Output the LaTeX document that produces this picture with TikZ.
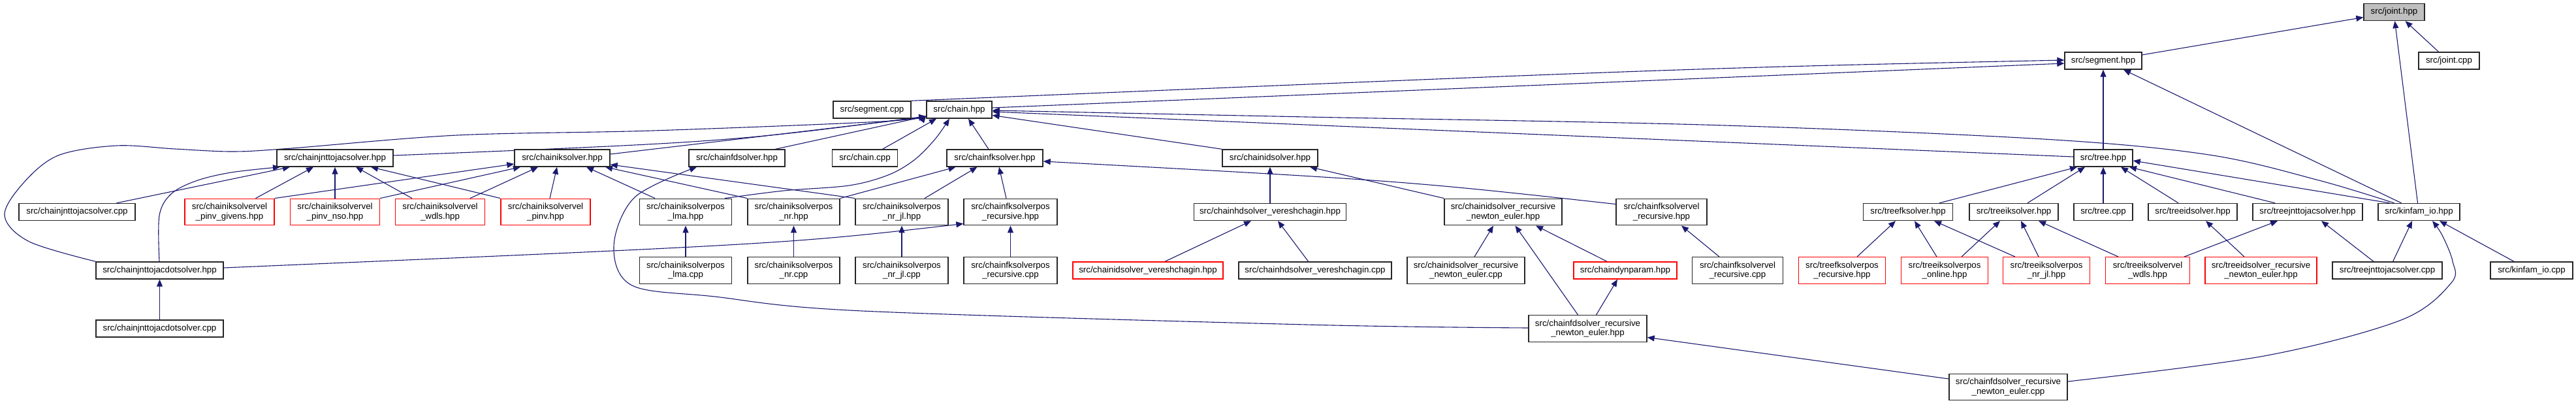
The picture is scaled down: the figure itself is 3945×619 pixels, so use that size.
\documentclass[tikz,border=0pt]{standalone}
\usepackage{fontspec}
\setmainfont{Liberation Sans}
\usetikzlibrary{arrows.meta,calc,backgrounds}
\definecolor{edgeblue}{HTML}{191970}
\definecolor{boxgray}{HTML}{BFBFBF}
\newcommand{\fsz}{\fontsize{13.3}{14.4}\selectfont}
\tikzset{
  file/.style={draw=black!85, line width=1.4pt, fill=white, inner sep=0pt, minimum height=26pt, align=center, font=\fsz},
  twoline/.style={minimum height=40.5pt},
  missing/.style={draw=red},
  dep/.style={draw=edgeblue, line width=1.1pt, -{Triangle[length=11pt,width=9pt]}},
}
\begin{document}
\begin{tikzpicture}[x=1pt,y=-1pt]
\useasboundingbox (0,0) rectangle (3945,619);
% rank 0-2
\node[file, fill=boxgray, minimum width=93pt] (joint) at (3666.5,18.5) {src/joint.hpp};
\node[file, minimum width=118pt] (segment) at (3221,93) {src/segment.hpp};
\node[file, minimum width=93pt] (jointcpp) at (3750.5,93) {src/joint.cpp};
\node[file, minimum width=119pt] (segcpp) at (1335.5,168) {src/segment.cpp};
\node[file, minimum width=100pt] (chain) at (1469,168) {src/chain.hpp};
% rank 3
\node[file, minimum width=178pt] (jacsolver) at (513,242) {src/chainjnttojacsolver.hpp};
\node[file, minimum width=146pt] (iksolver) at (861,242) {src/chainiksolver.hpp};
\node[file, minimum width=147pt] (fdsolver) at (1128.5,242) {src/chainfdsolver.hpp};
\node[file, minimum width=100pt] (chaincpp) at (1324.5,242) {src/chain.cpp};
\node[file, minimum width=147pt] (fksolver) at (1523.5,242) {src/chainfksolver.hpp};
\node[file, minimum width=146pt] (idsolver) at (1945,242) {src/chainidsolver.hpp};
\node[file, minimum width=90pt] (tree) at (3221,242) {src/tree.hpp};
% rank 4
\node[file, minimum width=178pt] (jaccpp) at (118,324.5) {src/chainjnttojacsolver.cpp};
\node[file, twoline, missing, minimum width=137pt] (givens) at (351.5,324.5) {src/chainiksolvervel\\\_pinv\_givens.hpp};
\node[file, twoline, missing, minimum width=137pt] (nso) at (513,324.5) {src/chainiksolvervel\\\_pinv\_nso.hpp};
\node[file, twoline, missing, minimum width=137pt] (wdls) at (674,324.5) {src/chainiksolvervel\\\_wdls.hpp};
\node[file, twoline, missing, minimum width=137pt] (pinv) at (835.5,324.5) {src/chainiksolvervel\\\_pinv.hpp};
\node[file, twoline, minimum width=141pt] (lma) at (1050,324.5) {src/chainiksolverpos\\\_lma.hpp};
\node[file, twoline, minimum width=141pt] (nr) at (1215.5,324.5) {src/chainiksolverpos\\\_nr.hpp};
\node[file, twoline, minimum width=142pt] (nrjl) at (1381,324.5) {src/chainiksolverpos\\\_nr\_jl.hpp};
\node[file, twoline, minimum width=143pt] (fkrec) at (1547.5,324.5) {src/chainfksolverpos\\\_recursive.hpp};
\node[file, minimum width=233pt] (hdver) at (1945,324.5) {src/chainhdsolver\_vereshchagin.hpp};
\node[file, twoline, minimum width=180pt] (idrne) at (2302,324.5) {src/chainidsolver\_recursive\\\_newton\_euler.hpp};
\node[file, twoline, minimum width=139pt] (fkvelrec) at (2544.5,324.5) {src/chainfksolvervel\\\_recursive.hpp};
\node[file, minimum width=137pt] (treefk) at (2922,324.5) {src/treefksolver.hpp};
\node[file, minimum width=136pt] (treeik) at (3084,324.5) {src/treeiksolver.hpp};
\node[file, minimum width=90pt] (treecpp) at (3221,324.5) {src/tree.cpp};
\node[file, minimum width=136pt] (treeid) at (3358,324.5) {src/treeidsolver.hpp};
\node[file, minimum width=168pt] (treejac) at (3534,324.5) {src/treejnttojacsolver.hpp};
\node[file, minimum width=125pt] (kinfam) at (3704.5,324.5) {src/kinfam\_io.hpp};
% rank 5
\node[file, minimum width=195pt] (jacdot) at (244.5,414) {src/chainjnttojacdotsolver.hpp};
\node[file, twoline, minimum width=141pt] (lmacpp) at (1050,414) {src/chainiksolverpos\\\_lma.cpp};
\node[file, twoline, minimum width=141pt] (nrcpp) at (1215.5,414) {src/chainiksolverpos\\\_nr.cpp};
\node[file, twoline, minimum width=142pt] (nrjlcpp) at (1381,414) {src/chainiksolverpos\\\_nr\_jl.cpp};
\node[file, twoline, minimum width=143pt] (fkreccpp) at (1547.5,414) {src/chainfksolverpos\\\_recursive.cpp};
\node[file, missing, minimum width=230pt] (idver) at (1758,414) {src/chainidsolver\_vereshchagin.hpp};
\node[file, minimum width=234pt] (hdvercpp) at (2014,414) {src/chainhdsolver\_vereshchagin.cpp};
\node[file, twoline, minimum width=180pt] (idrnecpp) at (2245,414) {src/chainidsolver\_recursive\\\_newton\_euler.cpp};
\node[file, missing, minimum width=158pt] (dynparam) at (2489,414) {src/chaindynparam.hpp};
\node[file, twoline, minimum width=139pt] (fkvelreccpp) at (2661,414) {src/chainfksolvervel\\\_recursive.cpp};
\node[file, twoline, missing, minimum width=133pt] (treefkrec) at (2821,414) {src/treefksolverpos\\\_recursive.hpp};
\node[file, twoline, missing, minimum width=133pt] (treeonline) at (2978,414) {src/treeiksolverpos\\\_online.hpp};
\node[file, twoline, missing, minimum width=133pt] (treenrjl) at (3134,414) {src/treeiksolverpos\\\_nr\_jl.hpp};
\node[file, twoline, missing, minimum width=129pt] (treewdls) at (3289,414) {src/treeiksolvervel\\\_wdls.hpp};
\node[file, twoline, missing, minimum width=171pt] (treeidrne) at (3462.5,414) {src/treeidsolver\_recursive\\\_newton\_euler.hpp};
\node[file, minimum width=168pt] (treejaccpp) at (3656,414) {src/treejnttojacsolver.cpp};
\node[file, minimum width=126pt] (kinfamcpp) at (3877,414) {src/kinfam\_io.cpp};
% rank 6-7
\node[file, minimum width=195pt] (jacdotcpp) at (244.5,503) {src/chainjnttojacdotsolver.cpp};
\node[file, twoline, minimum width=181pt] (fdrne) at (2431.5,503) {src/chainfdsolver\_recursive\\\_newton\_euler.hpp};
\node[file, twoline, minimum width=181pt] (fdrnecpp) at (3075.5,592.5) {src/chainfdsolver\_recursive\\\_newton\_euler.cpp};

\begin{pgfonlayer}{background}
% joint.hpp
\draw[dep] ($(segment.east)+(0,-9)$) -- ($(joint.west)+(0,8)$);
\draw[dep] ($(jointcpp.north)+(-16,0)$) -- ($(joint.south)+(17,0)$);
\draw[dep] ($(kinfam.north)+(-2,0)$) -- ($(joint.south)+(1,0)$);
% segment.hpp
\draw[dep] (segcpp.north east) .. controls (2600,104) .. ($(segment.west)+(0,-1)$);
\draw[dep] ($(chain.east)+(0,-3)$) -- ($(segment.west)+(0,4)$);
\draw[dep] (tree.north) -- (segment.south);
\draw[dep] ($(kinfam.north)+(-27,0)$) -- ($(segment.south)+(31,0)$);
% chain.hpp
\draw[dep] plot[smooth,tension=0.55] coordinates {(jacdot.north west) (45,370) (7,330) (36,280) (89,238) (178,223) (268,228) (357,232) (446,227) (700,207) (1000,200) (1350,186) ($(chain.west)+(0,9)$)};
\draw[dep] ($(jacsolver.east)+(0,-4)$) .. controls (1117,217) .. ($(chain.west)+(0,10)$);
\draw[dep] ($(iksolver.east)+(0,-6)$) -- ($(chain.west)+(0,11)$);
\draw[dep] ($(fdsolver.north)+(59,0)$) -- ($(chain.west)+(0,10)$);
\draw[dep] ($(chaincpp.north)+(27,0)$) -- ($(chain.south)+(-35,0)$);
\draw[dep] plot[smooth,tension=0.55] coordinates {($(lma.north)+(60,0)$) (1200,292) (1300,284) (1360,268) (1400,245) (1432,213) ($(chain.south)+(-15,0)$)};
\draw[dep] ($(fksolver.north)+(-9.5,0)$) -- ($(chain.south)+(14,0)$);
\draw[dep] (idsolver.north west) -- ($(chain.east)+(0,8.5)$);
\draw[dep] ($(tree.west)+(0,-2)$) -- ($(chain.east)+(0,3)$);
\draw[dep] plot[smooth,tension=0.55] coordinates {($(kinfam.north)+(-38,0)$) (3551,276) (3383,237) (3130,213) (2625,191.5) (2000,179) ($(chain.east)+(0,1)$)};
% chainiksolver.hpp
\draw[dep] (givens.north east) -- ($(iksolver.west)+(0,9)$);
\draw[dep] (nso.north east) -- ($(iksolver.south)+(-64,0)$);
\draw[dep] ($(wdls.north)+(46,0)$) -- ($(iksolver.south)+(-37,0)$);
\draw[dep] ($(pinv.north)+(6.5,0)$) -- ($(iksolver.south)+(-8,0)$);
\draw[dep] ($(lma.north)+(-47,0)$) -- ($(iksolver.south)+(37,0)$);
\draw[dep] (nr.north west) -- ($(iksolver.south)+(66,0)$);
\draw[dep] (nrjl.north west) -- ($(iksolver.east)+(0,10)$);
% chainfksolver.hpp
\draw[dep] (nr.north east) -- ($(fksolver.south)+(-60,0)$);
\draw[dep] ($(nrjl.north)+(35,0)$) -- ($(fksolver.south)+(-27,0)$);
\draw[dep] ($(fkrec.north)+(-6.5,0)$) -- ($(fksolver.south)+(6.5,0)$);
\draw[dep] ($(fkvelrec.west)+(0,-12)$) .. controls (2152,277) .. ($(fksolver.east)+(0,5)$);
% chainfksolverpos_recursive.hpp
\draw[dep] ($(jacdot.east)+(0,-4)$) .. controls (1209,373) .. ($(fkrec.west)+(0,18)$);
% chainjnttojacsolver.hpp
\draw[dep] ($(jaccpp.north)+(60.5,0)$) -- ($(jacsolver.south)+(-69,0)$);
\draw[dep] plot[smooth,tension=0.55] coordinates {($(jacdot.north)+(-0.5,0)$) (244,330) (262,297) (300,277) (354,264) ($(jacsolver.south)+(-84,0)$)};
\draw[dep] ($(givens.north)+(40,0)$) -- ($(jacsolver.south)+(-33,0)$);
\draw[dep] (nso.north) -- (jacsolver.south);
\draw[dep] ($(wdls.north)+(-43,0)$) -- ($(jacsolver.south)+(32,0)$);
\draw[dep] (pinv.north west) -- ($(jacsolver.south)+(55,0)$);
% chainjnttojacdotsolver.hpp
\draw[dep] (jacdotcpp.north) -- (jacdot.south);
% chainfdsolver.hpp
\draw[dep] plot[smooth,tension=0.55] coordinates {($(fdrne.west)+(0,-1)$) (2000,497) (1320,476) (1094,454) (968,437) (940,377) (972,302) ($(fdsolver.south)+(-61.5,0)$)};
% chainidsolver.hpp
\draw[dep] (hdver.north) -- (idsolver.south);
\draw[dep] (idrne.north west) -- ($(idsolver.south)+(61,0)$);
% chainhdsolver_vereshchagin.hpp
\draw[dep] ($(idver.north)+(26,0)$) -- ($(hdver.south)+(-29,0)$);
\draw[dep] ($(hdvercpp.north)+(-10.4,0)$) -- ($(hdver.south)+(12,0)$);
% chainidsolver_recursive_newton_euler.hpp
\draw[dep] ($(idrnecpp.north)+(13,0)$) -- ($(idrne.south)+(-15,0)$);
\draw[dep] ($(fdrne.north)+(-15,0)$) -- ($(idrne.south)+(18.5,0)$);
\draw[dep] ($(dynparam.north)+(-28,0)$) -- ($(idrne.south)+(50,0)$);
% chaindynparam.hpp
\draw[dep] ($(fdrne.north)+(13,0)$) -- ($(dynparam.south)+(-12,0)$);
% chainfksolvervel_recursive.hpp
\draw[dep] ($(fkvelreccpp.north)+(-28,0)$) -- ($(fkvelrec.south)+(30.5,0)$);
% chainfdsolver_recursive_newton_euler.hpp
\draw[dep] ($(fdrnecpp.west)+(0,-12.5)$) -- ($(fdrne.east)+(0,13.5)$);
% kinfam_io.hpp from fdrne.cpp
\draw[dep] plot[smooth,tension=0.55] coordinates {($(fdrnecpp.east)+(0,-8.5)$) (3467,545) (3677,490) (3754,433) (3756,400) (3740,360) ($(kinfam.south)+(20.5,0)$)};
% cpp verticals
\draw[dep] (lmacpp.north) -- (lma.south);
\draw[dep] (nrcpp.north) -- (nr.south);
\draw[dep] (nrjlcpp.north) -- (nrjl.south);
\draw[dep] (fkreccpp.north) -- (fkrec.south);
% tree.hpp
\draw[dep] ($(treefk.north)+(48,0)$) -- ($(tree.south)+(-40,0)$);
\draw[dep] ($(treeik.north)+(21,0)$) -- ($(tree.south)+(-28,0)$);
\draw[dep] (treecpp.north) -- (tree.south);
\draw[dep] ($(treeid.north)+(-22,0)$) -- ($(tree.south)+(27,0)$);
\draw[dep] ($(treejac.north)+(-50,0)$) -- ($(tree.south)+(40,0)$);
\draw[dep] ($(kinfam.north)+(-45,0)$) -- ($(tree.east)+(0,4)$);
% treefksolver.hpp
\draw[dep] ($(treefkrec.north)+(23,0)$) -- ($(treefk.south)+(-19,0)$);
\draw[dep] ($(treeonline.north)+(-12,0)$) -- ($(treefk.south)+(10,0)$);
\draw[dep] ($(treenrjl.north)+(-48,0)$) -- ($(treefk.south)+(40,0)$);
% treeiksolver.hpp
\draw[dep] ($(treeonline.north)+(26,0)$) -- ($(treeik.south)+(-21,0)$);
\draw[dep] ($(treenrjl.north)+(-12,0)$) -- ($(treeik.south)+(11,0)$);
\draw[dep] ($(treewdls.north)+(-45,0)$) -- ($(treeik.south)+(38,0)$);
% treeidsolver.hpp
\draw[dep] ($(treeidrne.north)+(-25.5,0)$) -- ($(treeid.south)+(20,0)$);
% treejnttojacsolver.hpp
\draw[dep] ($(treewdls.north)+(56,0)$) -- ($(treejac.south)+(-46,0)$);
\draw[dep] ($(treejaccpp.north)+(-21,0)$) -- ($(treejac.south)+(21,0)$);
% kinfam_io.hpp
\draw[dep] ($(treejaccpp.north)+(8.6,0)$) -- ($(kinfam.south)+(-10.5,0)$);
\draw[dep] ($(kinfamcpp.north)+(-27,0)$) -- ($(kinfam.south)+(31.5,0)$);
\end{pgfonlayer}
\end{tikzpicture}
\end{document}
